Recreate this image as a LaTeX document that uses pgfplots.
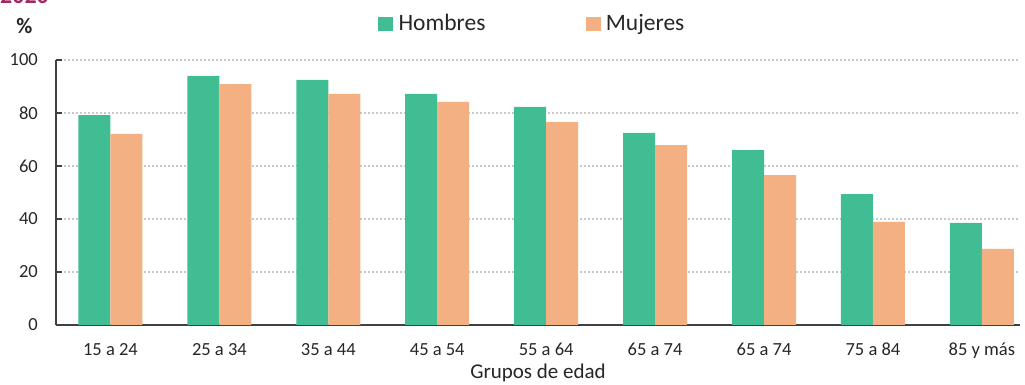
\documentclass[border=0pt]{standalone}
\usepackage{pgfplots}
\pgfplotsset{compat=1.18}
\usepackage{fontspec}
\setmainfont{Carlito}
\definecolor{hgreen}{RGB}{65,189,148}
\definecolor{morange}{RGB}{243,176,131}
\definecolor{txt}{RGB}{38,38,38}
\definecolor{axl}{RGB}{64,64,64}
\definecolor{grd}{RGB}{200,200,200}
\definecolor{mag}{RGB}{160,40,100}
\begin{document}
\begin{tikzpicture}[x=1pt,y=1pt]
\path[use as bounding box] (0,0) rectangle (1025,385);
\node[anchor=base west, inner sep=0pt, text=mag, font=\fontsize{24}{28}\selectfont\bfseries] at (0,381.5) {2020};
\node[anchor=center, inner sep=0pt, text=txt, font=\fontsize{22}{26}\selectfont\bfseries] at (24.5,359) {\%};
\begin{axis}[
  at={(56pt,60pt)}, anchor=south west,
  scale only axis, width=964pt, height=265pt,
  xmin=-0.5, xmax=8.35, ymin=0, ymax=100,
  ybar=0pt, bar width=32pt,
  axis x line*=bottom, axis y line*=left,
  axis line style={-, draw=axl, line width=1.3pt},
  xtick=data,
  xticklabels={15 a 24,25 a 34,35 a 44,45 a 54,55 a 64,65 a 74,65 a 74,75 a 84,85 y más},
  x tick style={draw=none},
  ytick={0,20,40,60,80,100},
  y tick style={draw=axl, line width=1.3pt},
  major tick length=6pt, tick align=inside,
  ymajorgrids,
  major grid style={draw=grd, line width=1.6pt, dash pattern=on 1.6pt off 2.4pt},
  /pgf/number format/assume math mode=true,
  tick label style={text=txt, font=\fontsize{18.5}{22}\selectfont},
  yticklabel style={anchor=east, inner sep=0pt, xshift=-18pt},
  xticklabel style={anchor=base, inner sep=0pt, yshift=-31pt},
  xlabel={Grupos de edad},
  xlabel style={at={(axis description cs:0.5,0)}, anchor=base, inner sep=0pt, yshift=-54pt, text=txt, font=\fontsize{21}{24}\selectfont},
  legend columns=2,
  legend style={at={(axis description cs:0.334,1.172)}, anchor=north west, draw=none, fill=none, inner sep=0pt,
    nodes={inner sep=0pt, text=txt, font=\fontsize{23.5}{26}\selectfont},
    /tikz/every odd column/.append style={column sep=6pt},
    /tikz/every even column/.append style={column sep=100pt}},
]
\addplot[fill=hgreen, draw=none, forget plot, bar shift=-16pt] coordinates {(0,79.2) (1,94.0) (2,92.5) (3,87.2) (4,82.3) (5,72.5) (6,66.0) (7,49.4) (8,38.5)};
\addplot[fill=morange, draw=none, forget plot, bar shift=16pt] coordinates {(0,72.1) (1,90.9) (2,87.2) (3,84.2) (4,76.6) (5,67.9) (6,56.6) (7,38.9) (8,28.7)};
\addlegendimage{legend image code/.code={\fill[hgreen] (0pt,-7pt) rectangle (14pt,6pt);}}
\addlegendentry{Hombres}
\addlegendimage{legend image code/.code={\fill[morange] (0pt,-7pt) rectangle (14pt,6pt);}}
\addlegendentry{Mujeres}
\end{axis}
\end{tikzpicture}
\end{document}
